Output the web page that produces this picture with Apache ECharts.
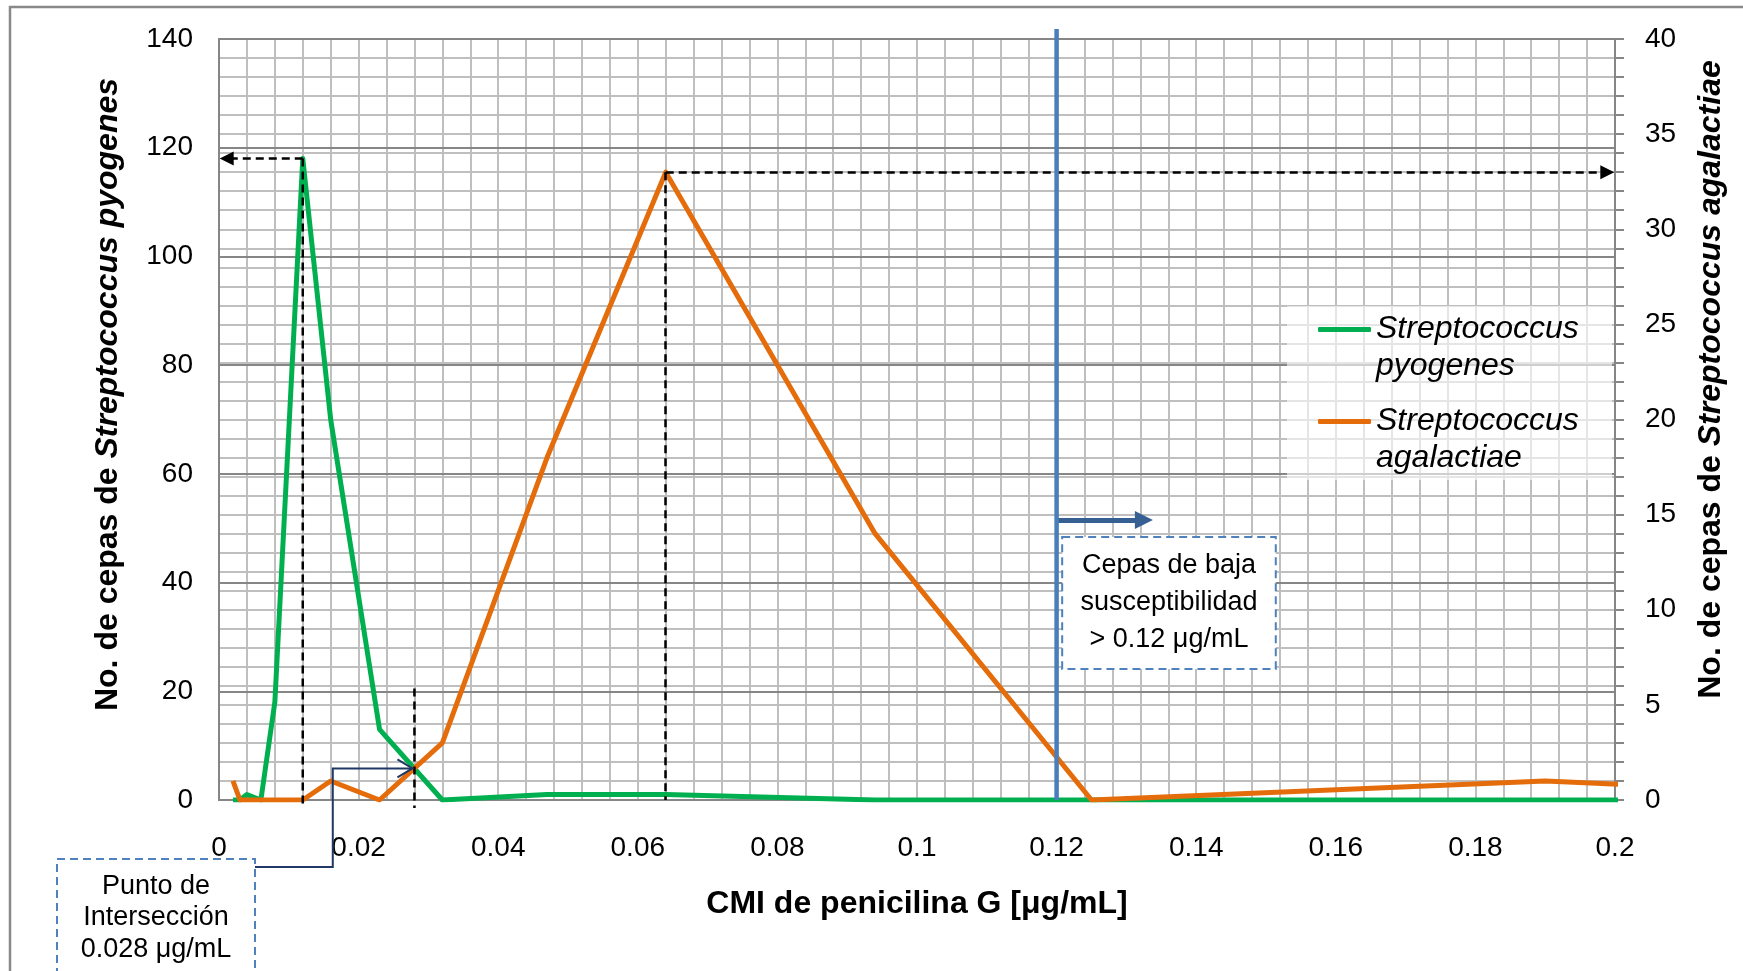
<!DOCTYPE html>
<html>
<head>
<meta charset="utf-8">
<script src="https://cdn.jsdelivr.net/npm/echarts@6.0.0/dist/echarts.min.js"></script>
</head>
<body style="margin:0;background:#fff;">
<div id="main" style="width:1743px;height:971px;"></div>
<script>
// CMI (escala E-test) y numero de cepas
var mic = [0.002, 0.003, 0.004, 0.006, 0.008, 0.012, 0.016, 0.023, 0.032, 0.047, 0.064, 0.094, 0.125, 0.19, 0.25];
var pyogenes = [0, 0, 1, 0, 18, 118, 70, 13, 0, 1, 1, 0, 0, 0, 0];
var agalactiae = [1, 0, 0, 0, 0, 0, 1, 0, 3, 18, 33, 14, 0, 1, 0];
var seriesNames = ['Streptococcus pyogenes', 'Streptococcus agalactiae'];

// anotaciones
var picoPyo = [0.012, 118];
var picoAga = [0.064, 33];
var corte = [0.028, 5.8];
var limite = 0.12;

var FONT = '"Liberation Sans", Arial, sans-serif';
var chart = echarts.init(document.getElementById('main'));

var option = {
    animation: false,
    textStyle: { fontFamily: FONT },
    grid: { left: 219, top: 39, right: 128, bottom: 171, show: true, borderColor: '#868686', borderWidth: 2 },
    legend: {
        data: seriesNames,
        orient: 'vertical',
        left: 1318,
        top: 274,
        padding: 0,
        itemGap: -19,
        icon: 'roundRect',
        itemWidth: 53,
        itemHeight: 5,
        // linea en blanco arriba para que el icono quede a la altura de la primera linea
        formatter: function (n) { return ' \n' + n.replace(' ', '\n'); },
        textStyle: { fontFamily: FONT, fontSize: 32, fontStyle: 'italic', color: '#000', lineHeight: 37 }
    },
    xAxis: {
        type: 'value', min: 0, max: 0.2, interval: 0.02,
        name: 'CMI de penicilina G [μg/mL]',
        nameLocation: 'middle', nameGap: 88,
        nameTextStyle: { fontFamily: FONT, fontSize: 32, fontWeight: 'bold', color: '#000' },
        axisLine: { lineStyle: { color: '#868686', width: 2 } },
        axisTick: { show: false },
        axisLabel: { fontSize: 28, color: '#000', margin: 34 },
        splitLine: { lineStyle: { color: '#BFBFBF', width: 2 } },
        minorTick: { show: false, splitNumber: 5 },
        minorSplitLine: { show: true, lineStyle: { color: '#BFBFBF', width: 2 } }
    },
    yAxis: [{
        type: 'value', min: 0, max: 140, interval: 20, z: 1,
        name: '{a|No. de cepas de }{b|Streptococcus pyogenes}',
        nameLocation: 'middle', nameRotate: 90, nameGap: 95,
        nameTextStyle: {
            padding: [0, 0, 0, 50],
            rich: {
                a: { fontFamily: FONT, fontSize: 32, fontWeight: 'bold', color: '#000' },
                b: { fontFamily: FONT, fontSize: 32, fontWeight: 'bold', fontStyle: 'italic', color: '#000' }
            }
        },
        axisLine: { show: true, lineStyle: { color: '#868686', width: 2 } },
        axisTick: { show: false },
        axisLabel: { fontSize: 28, color: '#000', margin: 26 },
        splitLine: { lineStyle: { color: '#868686', width: 2 } }
    }, {
        type: 'value', min: 0, max: 40, interval: 5, position: 'right',
        name: '{a|No. de cepas de }{b|Streptococcus agalactiae}',
        nameLocation: 'middle', nameRotate: 90, nameGap: 80,
        nameTextStyle: {
            padding: [0, 0, 0, 80],
            rich: {
                a: { fontFamily: FONT, fontSize: 32, fontWeight: 'bold', color: '#000' },
                b: { fontFamily: FONT, fontSize: 32, fontWeight: 'bold', fontStyle: 'italic', color: '#000' }
            }
        },
        axisLine: { show: true, lineStyle: { color: '#868686', width: 2 } },
        axisTick: { show: true, length: 9, lineStyle: { color: '#868686', width: 2 } },
        minorTick: { show: true, splitNumber: 5, length: 9, lineStyle: { color: '#868686', width: 2 } },
        axisLabel: { fontSize: 28, color: '#000', margin: 30 },
        splitLine: { lineStyle: { color: '#BFBFBF', width: 2 } },
        minorSplitLine: { show: true, lineStyle: { color: '#BFBFBF', width: 2 } }
    }],
    series: [{
        name: seriesNames[0],
        type: 'line',
        yAxisIndex: 0,
        data: mic.map(function (x, i) { return [x, pyogenes[i]]; }),
        symbol: 'none',
        z: 3,
        lineStyle: { color: '#00B050', width: 5, join: 'round' },
        itemStyle: { color: '#00B050' },
        markLine: {
            silent: true, animation: false,
            symbol: ['none', 'none'],
            label: { show: false },
            lineStyle: { color: '#000', width: 2.5, type: [8, 5] },
            data: [
                [{ coord: picoPyo }, { coord: [0.0011, picoPyo[1]], symbol: 'triangle', symbolSize: 14 }],
                [{ coord: [limite, 51.5], lineStyle: { color: '#376092', width: 5, type: 'solid' } },
                 { coord: [0.1325, 51.5], symbol: 'triangle', symbolSize: 18 }]
            ]
        },
        markArea: {
            silent: true,
            itemStyle: { color: '#fff', borderColor: '#4F81BD', borderWidth: 2, borderType: [8, 5] },
            label: { show: true, position: 'inside', color: '#000', fontFamily: FONT, fontSize: 27, lineHeight: 37 },
            data: [[{ coord: [0.1208, 48.4], name: 'Cepas de baja\nsusceptibilidad\n> 0.12 μg/mL' }, { coord: [0.1514, 24.1] }]]
        }
    }, {
        name: seriesNames[1],
        type: 'line',
        yAxisIndex: 1,
        data: mic.map(function (x, i) { return [x, agalactiae[i]]; }),
        symbol: 'none',
        z: 3,
        lineStyle: { color: '#E46C0A', width: 5, join: 'round' },
        itemStyle: { color: '#E46C0A' },
        markLine: {
            silent: true, animation: false,
            symbol: ['none', 'none'],
            label: { show: false },
            lineStyle: { color: '#000', width: 2.5, type: [8, 5] },
            data: [
                [{ coord: picoAga }, { coord: [picoAga[0], 0] }],
                [{ coord: picoAga }, { coord: [0.1989, picoAga[1]], symbol: 'triangle', symbolSize: 14 }]
            ]
        }
    }]
};
chart.setOption(option);

// elementos que salen del area de datos
function px(p) { return chart.convertToPixel({ gridIndex: 0 }, p); }
var lTop = px([limite, 140]);
var lBot = px([limite, 0]);
var pI = px(corte);
var pPico = px(picoPyo);
var pCorteTop = px([corte[0], 20.5]);
var y0 = px([0, 0])[1];
var xv = px([0.0163, 0])[0];
var yBox = 867;

chart.setOption({
    graphic: [
        { type: 'rect', silent: true, z: -1, shape: { x: 10, y: 7, width: 1800, height: 1000 },
          style: { fill: 'none', stroke: '#898989', lineWidth: 2.5 } },
        { type: 'rect', silent: true, z: 1, shape: { x: 1287, y: 306, width: 325, height: 174 },
          style: { fill: 'rgba(255,255,255,0.6)' } },
        { type: 'line', silent: true, z: 4, shape: { x1: pPico[0], y1: pPico[1], x2: pPico[0], y2: y0 + 4 },
          style: { stroke: '#000', lineWidth: 2.5, lineDash: [8, 5] } },
        { type: 'line', silent: true, z: 4, shape: { x1: pCorteTop[0], y1: pCorteTop[1], x2: pCorteTop[0], y2: y0 + 8 },
          style: { stroke: '#000', lineWidth: 2.5, lineDash: [8, 5] } },
        { type: 'line', silent: true, z: 5, shape: { x1: lTop[0], y1: lTop[1] - 10, x2: lBot[0], y2: lBot[1] },
          style: { stroke: '#4A7EBB', lineWidth: 4.5 } },
        { type: 'rect', silent: true, z: 5, shape: { x: 57, y: 859, width: 198, height: 140 },
          style: { fill: '#fff', stroke: '#4F81BD', lineWidth: 2, lineDash: [8, 5] } },
        { type: 'text', silent: true, z: 6, x: 156, y: 918,
          style: { text: 'Punto de\nIntersección\n0.028 μg/mL', align: 'center', verticalAlign: 'middle',
                   fontFamily: FONT, fontSize: 27, lineHeight: 31.5, fill: '#000' } },
        { type: 'polyline', silent: true, z: 6,
          shape: { points: [[255, yBox], [xv, yBox], [xv, pI[1]], [pI[0] - 2, pI[1]]] },
          style: { stroke: '#1F3864', lineWidth: 2, fill: 'none' } },
        { type: 'polyline', silent: true, z: 6,
          shape: { points: [[pI[0] - 17, pI[1] - 9], [pI[0] - 2, pI[1]], [pI[0] - 17, pI[1] + 9]] },
          style: { stroke: '#1F3864', lineWidth: 2, fill: 'none' } }
    ]
});
</script>
</body>
</html>
